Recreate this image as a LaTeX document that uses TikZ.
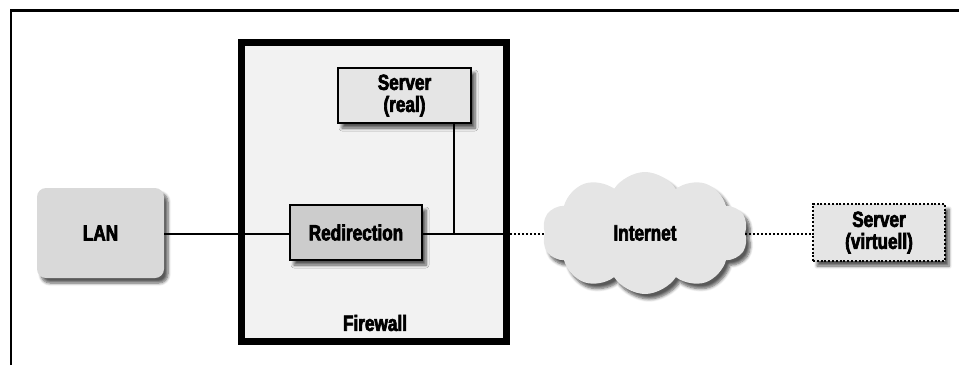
\documentclass[tikz,border=0pt]{standalone}
\usepackage{fontspec}
\newfontfamily\lblfont{Liberation Sans}[FakeStretch=0.78,FakeBold=3]
\usetikzlibrary{shapes.symbols,shadows.blur}
\tikzset{
  lbl/.style={font=\lblfont\bfseries\fontsize{22}{23}\selectfont, align=center},
  shad/.style={blur shadow={shadow xshift=4pt, shadow yshift=-5pt, shadow blur steps=6, shadow opacity=65, shadow blur radius=3pt}},
  boxA/.style={lbl, draw=black, line width=2.2pt, inner sep=0pt, shad},
  link/.style={line width=2.2pt},
  dotlink/.style={line width=2.6pt, dash pattern=on 2pt off 2pt},
}
\begin{document}
\begin{tikzpicture}[x=1pt,y=-1pt]
\useasboundingbox (0,0) rectangle (959,365);
\draw[line width=2.8pt] (11,365) -- (11,10.7) -- (959,10.7);
% firewall
\node[fill=black!5, minimum width=264.5pt, minimum height=298.5pt, inner sep=0pt] (fw) at (373.75,191.75) {};
\node[lbl, anchor=center] (fwl) at (375,323) {Firewall};
% nodes
\node[lbl, fill=black!15, rounded corners=9pt, minimum width=127pt, minimum height=90pt, inner sep=0pt, shad] (lan) at (100.5,233) {LAN};
\node[boxA, fill=black!20, minimum width=132pt, minimum height=55pt] (red) at (356,232.5) {Redirection};
\node[boxA, fill=black!10, minimum width=133pt, minimum height=55pt] (sreal) at (404.5,95.5) {Server\\[-1pt](real)};
\node[lbl, shape=cloud, cloud puffs=10, cloud puff arc=115, aspect=1.7, fill=black!10, minimum width=206pt, minimum height=122pt, inner sep=0pt, shad] (inet) at (645,233) {Internet};
\node[boxA, draw=black, dash pattern=on 2pt off 1.8pt, line width=2.6pt, fill=black!10, minimum width=132pt, minimum height=57pt] (svirt) at (879,232.5) {Server\\[-1pt](virtuell)};
\coordinate (j) at (454,234);
\coordinate (fwr) at (506,234);
% connectors
\draw[link] (lan.east |- 0,234) -- (red.west |- 0,234);
\draw[link] (red.east |- j) -- (fwr);
\draw[link] (sreal.south -| j) -- (j);
\draw[dotlink] (fwr) -- (inet.west |- fwr);
\draw[dotlink] (inet.east |- fwr) -- (svirt.west |- fwr);
% firewall border
\draw[line width=7pt] (fw.north west) rectangle (fw.south east);
\end{tikzpicture}
\end{document}
